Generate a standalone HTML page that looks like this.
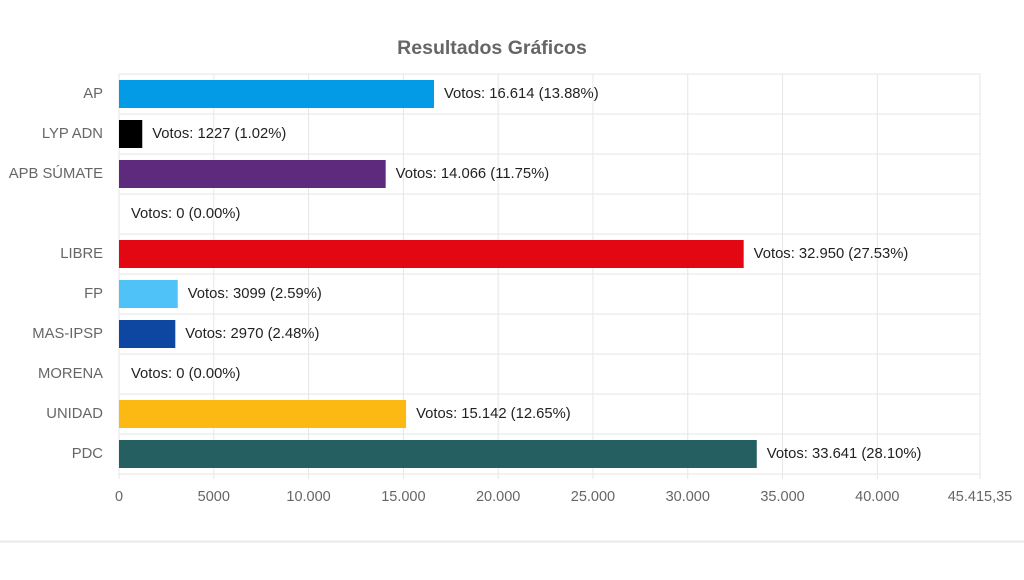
<!DOCTYPE html>
<html><head><meta charset="utf-8"><style>
body{margin:0;background:#fff;width:1024px;height:575px;overflow:hidden;font-family:"Liberation Sans",Arial,sans-serif}
</style></head><body>
<svg id="chart" width="1024" height="575" xmlns="http://www.w3.org/2000/svg">
<text x="492" y="54" text-anchor="middle" font-size="19.5" font-weight="bold" fill="#666">Resultados Gráficos</text>
<line x1="0" y1="541.5" x2="1024" y2="541.5" stroke="#e8e8e8" stroke-width="2"/>
<g id="plot"></g>
</svg>
<script>
const categories=["AP","LYP ADN","APB SÚMATE","","LIBRE","FP","MAS-IPSP","MORENA","UNIDAD","PDC"];
const votes=[16614,1227,14066,0,32950,3099,2970,0,15142,33641];
const labels=["16.614 (13.88%)","1227 (1.02%)","14.066 (11.75%)","0 (0.00%)","32.950 (27.53%)","3099 (2.59%)","2970 (2.48%)","0 (0.00%)","15.142 (12.65%)","33.641 (28.10%)"];
const colors=["#039be5","#000000","#5e2a7e","#cccccc","#e30613","#4fc3f7","#0d47a1","#8b0000","#fdb913","#255f61"];
const ticks=[0,5000,10000,15000,20000,25000,30000,35000,40000,45415.35];
const tickLabels=["0","5000","10.000","15.000","20.000","25.000","30.000","35.000","40.000","45.415,35"];
const xMax=45415.35;
const L=119,R=980,T=74,B=474;
const NS="http://www.w3.org/2000/svg";
const g=document.getElementById('plot');
const x=v=>L+(v/xMax)*(R-L);
const rowH=(B-T)/categories.length;
function el(t,a){const e=document.createElementNS(NS,t);for(const k in a)e.setAttribute(k,a[k]);g.appendChild(e);return e;}
for(let i=0;i<=categories.length;i++){
  const l=el('line',{x1:L,x2:R,y1:T+i*rowH,y2:T+i*rowH,stroke:'#e6e6e6'});
  
  
}
ticks.forEach((t,i)=>{
  const l=el('line',{x1:x(t),x2:x(t),y1:T,y2:B+5,stroke:'#e6e6e6'});
  
  
  const tx=el('text',{x:x(t),y:B+27,'text-anchor':'middle','font-size':14.5,fill:'#666'});
  tx.textContent=tickLabels[i];
  
  
});
categories.forEach((c,i)=>{
  const cy=T+i*rowH+rowH/2;
  const lab=el('text',{x:103,y:cy+4,'text-anchor':'end','font-size':14.8,fill:'#666'});
  lab.textContent=c;
  
  
  const w=x(votes[i])-L;
  if(w>0){
    const r=el('rect',{x:L,y:cy-14,width:w,height:28,fill:colors[i]});
    
    
  }
  const v=el('text',{x:x(votes[i])+(w>0?10:12),y:cy+4,'font-size':14.8,fill:'#222'});
  v.textContent='Votos: '+labels[i];
  
  
});
</script>
</body></html>
